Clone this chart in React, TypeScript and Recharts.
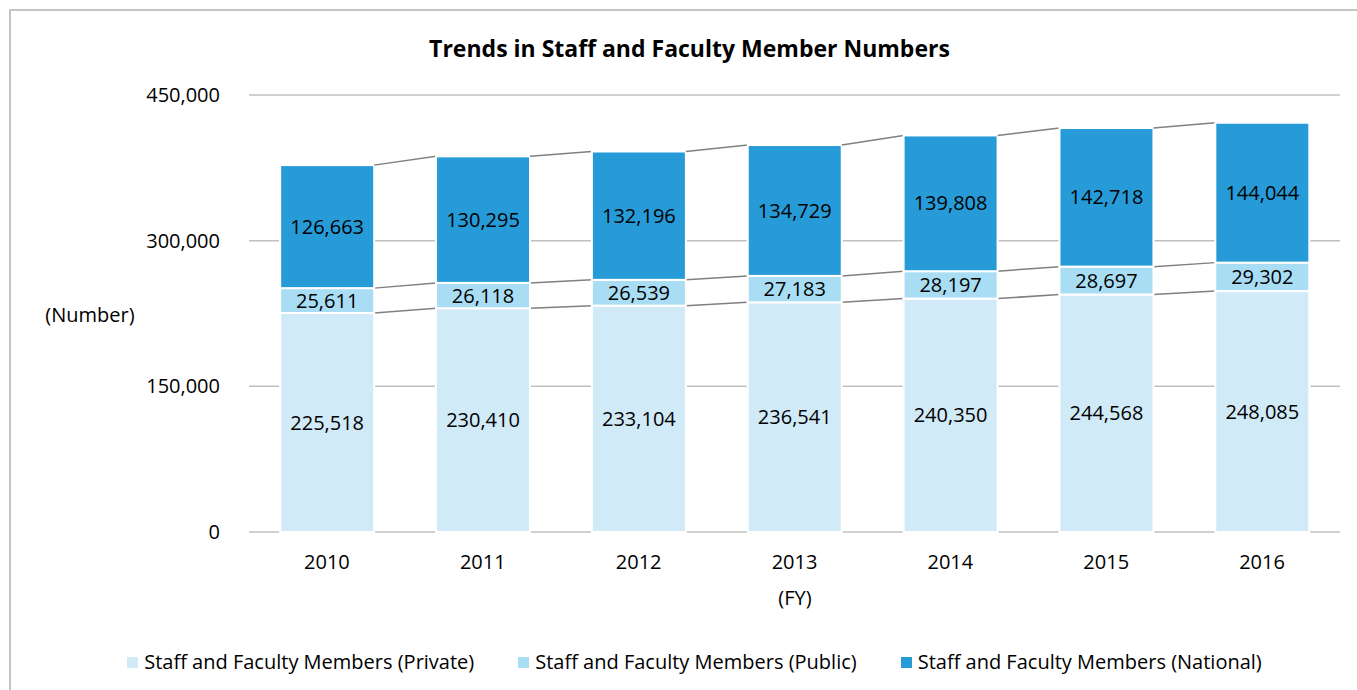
import { BarChart, Bar, XAxis, YAxis, CartesianGrid, LabelList } from "recharts";

// FY categories
const years = ["2010", "2011", "2012", "2013", "2014", "2015", "2016"];

// stacked from the bottom up
const privateStaff = [225518, 230410, 233104, 236541, 240350, 244568, 248085];
const publicStaff = [25611, 26118, 26539, 27183, 28197, 28697, 29302];
const nationalStaff = [126663, 130295, 132196, 134729, 139808, 142718, 144044];

const yTicks = [0, 150000, 300000, 450000];

const SERIES = [
  { key: "private", name: "Staff and Faculty Members (Private)", color: "#d0eaf7" },
  { key: "public", name: "Staff and Faculty Members (Public)", color: "#a8ddf3" },
  { key: "national", name: "Staff and Faculty Members (National)", color: "#279bd7" },
];

const data = years.map((year, i) => ({
  year,
  private: privateStaff[i],
  public: publicStaff[i],
  national: nationalStaff[i],
}));

const FONT = "'Open Sans', sans-serif";
const FS = 20;
const fmt = (v: any) => Number(v).toLocaleString("en-US");

// remembers the previous bar of each series so the series line can join them
const lastRect: Record<string, { x: number; y: number; width: number } | undefined> = {};

function makeShape(key: string, color: string) {
  return (props: any) => {
    const { x, y, width, height, index } = props;
    const prev = index > 0 ? lastRect[key] : undefined;
    lastRect[key] = { x, y, width };
    return (
      <g>
        {prev && (
          <line
            x1={prev.x + prev.width}
            y1={prev.y}
            x2={x}
            y2={y}
            stroke="#808080"
            strokeWidth={1.5}
          />
        )}
        <rect x={x} y={y} width={width} height={height} fill={color} stroke="#ffffff" strokeWidth={2} />
      </g>
    );
  };
}

export default function App() {
  return (
    <div
      style={{
        position: "absolute",
        left: 0,
        top: 0,
        width: 1357,
        height: 690,
        overflow: "hidden",
        background: "#fff",
        fontFamily: FONT,
        color: "#000",
      }}
    >
      <div
        style={{
          position: "absolute",
          left: 9,
          top: 9,
          width: 1500,
          height: 800,
          border: "2px solid #c4c4c4",
        }}
      />
      <div
        style={{
          position: "absolute",
          left: 0,
          width: 1379,
          top: 33,
          textAlign: "center",
          fontWeight: 700,
          fontSize: 23,
          lineHeight: "30px",
        }}
      >
        Trends in Staff and Faculty Member Numbers
      </div>
      <div style={{ position: "absolute", left: 0, width: 180, top: 301, textAlign: "center", fontSize: FS, lineHeight: "28px" }}>
        (Number)
      </div>
      <div style={{ position: "absolute", left: 695, width: 200, top: 584, textAlign: "center", fontSize: FS, lineHeight: "28px" }}>
        (FY)
      </div>

      <div style={{ position: "absolute", left: 0, top: 0 }}>
        <BarChart
          width={1357}
          height={690}
          data={data}
          margin={{ top: 95, right: 17, bottom: 128, left: 0 }}
          barCategoryGap="20%"
        >
          <CartesianGrid vertical={false} stroke="#c0c0c0" strokeWidth={1.5} />
          <XAxis
            dataKey="year"
            height={30}
            axisLine={false}
            tickLine={false}
            tickMargin={17}
            tick={{ fill: "#000", fontSize: FS }}
          />
          <YAxis
            width={249}
            domain={[0, 450000]}
            ticks={yTicks}
            tickFormatter={fmt}
            axisLine={false}
            tickLine={false}
            tickMargin={23}
            tick={{ fill: "#000", fontSize: FS }}
          />
          {SERIES.map((s) => (
            <Bar
              key={s.key}
              dataKey={s.key}
              name={s.name}
              stackId="a"
              fill={s.color}
              isAnimationActive={false}
              shape={makeShape(s.key, s.color)}
            >
              <LabelList dataKey={s.key} position="center" formatter={fmt} fill="#000" fontSize={FS} />
            </Bar>
          ))}
        </BarChart>
      </div>

      <div
        style={{
          position: "absolute",
          left: 0,
          width: 1389,
          top: 648,
          display: "flex",
          justifyContent: "center",
          gap: 44,
          fontSize: FS,
          lineHeight: "28px",
        }}
      >
        {SERIES.map((s) => (
          <div key={s.key} style={{ display: "flex", alignItems: "center" }}>
            <span style={{ display: "inline-block", width: 11, height: 11, background: s.color, marginRight: 6 }} />
            <span>{s.name}</span>
          </div>
        ))}
      </div>
    </div>
  );
}
